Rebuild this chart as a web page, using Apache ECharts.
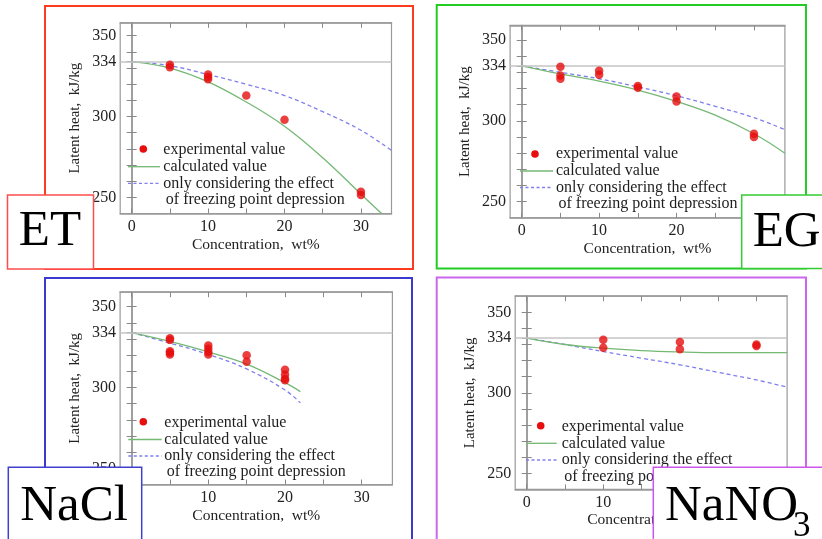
<!DOCTYPE html>
<html><head><meta charset="utf-8">
<script src="https://cdn.jsdelivr.net/npm/echarts@6/dist/echarts.min.js"></script>
<style>html,body{margin:0;padding:0;background:#fff}#c{width:822px;height:539px}</style>
</head><body><div id="c"></div><script>
// ---- tick definitions ----
const yTickLabels = [250, 300, 334, 350];
const yTicks = [250, 260, 270, 280, 290, 300, 310, 320, 330, 334, 340, 350];
const xTickLabels = [0, 10, 20, 30];
const xTicks = [0, 5, 10, 15, 20, 25, 30];
const iceLatentHeat = 334;

// ---- ET ----
const etExpX = [5, 5, 10, 10, 10, 15, 20, 30, 30];
const etExpY = [332, 330.5, 326, 324.5, 323, 313, 298, 253.5, 251.5];
const etCalcX = [0, 5, 10, 15, 20, 25, 30, 32.7];
const etCalcY = [334, 330, 321.5, 309, 294, 274.5, 252, 240];
const etFpdX = [0, 5, 10, 15, 20, 25, 30, 34];
const etFpdY = [334, 331.5, 326, 320, 313, 303, 291.5, 279];

// ---- EG ----
const egExpX = [5, 5, 5, 10, 10, 15, 15, 20, 20, 30, 30];
const egExpY = [333.5, 328, 326, 331, 328.5, 321.5, 320.5, 315, 312, 292, 290];
const egCalcX = [0, 5, 10, 15, 20, 25, 30, 34];
const egCalcY = [334, 329, 324.5, 319, 312, 303.5, 292, 280];
const egFpdX = [0, 5, 10, 15, 20, 25, 30, 34];
const egFpdY = [334, 330, 326, 321, 315.5, 309, 302, 294.5];

// ---- NaCl ----
const naclExpX = [5, 5, 5, 5, 5, 10, 10, 10, 10, 15, 15, 20, 20, 20, 20];
const naclExpY = [330.5, 329.5, 322.5, 321.5, 320.5, 326, 324, 322, 320.5, 320, 316, 311, 308, 305.5, 304.5];
const naclCalcX = [0, 5, 10, 15, 20, 22];
const naclCalcY = [334, 328.5, 322, 314.5, 303, 297.5];
const naclFpdX = [0, 5, 10, 15, 20, 22];
const naclFpdY = [334, 327.5, 320.5, 311.5, 298.5, 290.5];

// ---- NaNO3 ----
const nano3ExpX = [10, 10, 20, 20, 30, 30];
const nano3ExpY = [333, 328, 331.5, 327, 330, 329];
const nano3CalcX = [0, 5, 10, 15, 20, 25, 30, 34];
const nano3CalcY = [334, 330, 327.7, 326.2, 325.4, 325, 325, 325];
const nano3FpdX = [0, 5, 10, 15, 20, 25, 30, 34];
const nano3FpdY = [334, 330, 325.6, 321.5, 317.4, 312.7, 308, 303.5];

const legendTexts = ['experimental value', 'calculated value', 'only considering the effect', 'of freezing point depression'];
const xName = 'Concentration,  wt%';
const yName = 'Latent heat,  kJ/kg';

const zip = (a, b) => a.map((v, i) => [v, b[i]]);
const FONT = '"Liberation Serif","DejaVu Serif",serif';

const panels = [
  { exp: zip(etExpX, etExpY), calc: zip(etCalcX, etCalcY), fpd: zip(etFpdX, etFpdY),
    grid: { left: 120.2, top: 22.8, width: 271.3, height: 190.7 }, ymax: 358,
    frame: { x: 45, y: 6, w: 368, h: 263, c: '#ff3b1f' },
    box: { x: 7.5, y: 195, w: 86, h: 74, c: '#ff4d4d' }, label: 'ET', lx: 50, ly: 232,
    leg: { dx: 143.3, dy: 149, tx: 163.3, ty: [150, 166.7, 183.3, 200], l0: 128, l1: 160 } },
  { exp: zip(egExpX, egExpY), calc: zip(egCalcX, egCalcY), fpd: zip(egFpdX, egFpdY),
    grid: { left: 510.1, top: 25.4, width: 274.8, height: 192.5 }, ymax: 359,
    frame: { x: 436.7, y: 5, w: 369.3, h: 263.5, c: '#22cc22' },
    box: { x: 741.7, y: 195, w: 90, h: 73.5, c: '#33cc33' }, label: 'EG', lx: 786.7, ly: 233,
    leg: { dx: 535, dy: 154, tx: 556, ty: [154, 171, 187.5, 203.5], l0: 520, l1: 553 } },
  { exp: zip(naclExpX, naclExpY), calc: zip(naclCalcX, naclCalcY), fpd: zip(naclFpdX, naclFpdY),
    grid: { left: 120.1, top: 292.2, width: 272.3, height: 192.3 }, ymax: 359,
    frame: { x: 45, y: 278, w: 367, h: 280, c: '#3a3ad0' },
    box: { x: 8.3, y: 467.3, w: 133.4, h: 90, c: '#4040d0' }, label: 'NaCl', lx: 74, ly: 506.7,
    leg: { dx: 143.3, dy: 421.7, tx: 164.3, ty: [423, 439.5, 456, 472], l0: 128.3, l1: 161.7 } },
  { exp: zip(nano3ExpX, nano3ExpY), calc: zip(nano3CalcX, nano3CalcY), fpd: zip(nano3FpdX, nano3FpdY),
    grid: { left: 515.2, top: 296.2, width: 271.9, height: 193.2 }, ymax: 360,
    frame: { x: 436.7, y: 277.5, w: 369.3, h: 280, c: '#cc66ee' },
    box: { x: 653.3, y: 467.3, w: 180, h: 90, c: '#cc55ee' }, label: 'NaNO', lx: 665, ly: 506.7,
    leg: { dx: 540.7, dy: 425.7, tx: 561.7, ty: [426.7, 443.3, 460, 476.7], l0: 526, l1: 556.7 } }
];

const grid = [], xAxis = [], yAxis = [], series = [], graphic = [];
const txt = { color: '#222', fontSize: 16, fontFamily: FONT };

panels.forEach((p, i) => {
  grid.push(Object.assign({ show: true, borderColor: '#999', borderWidth: 1.2, backgroundColor: 'transparent' }, p.grid));
  const axLine = { show: true, lineStyle: { color: '#999', width: 1.5 } };
  const tickX = { show: true, inside: true, length: 5, customValues: xTicks, lineStyle: { color: '#888', width: 1 } };
  const tickY = { show: true, inside: true, length: 5, customValues: yTicks, lineStyle: { color: '#888', width: 1 } };
  xAxis.push({ type: 'value', gridIndex: i, min: -1.5, max: 34, position: 'bottom',
    axisLine: axLine, axisTick: tickX, splitLine: { show: false },
    axisLabel: Object.assign({ customValues: xTickLabels, margin: 5 }, txt),
    name: xName, nameLocation: 'middle', nameGap: 23,
    nameTextStyle: { color: '#222', fontSize: 15.5, fontFamily: FONT } });
  xAxis.push({ type: 'value', gridIndex: i, min: -1.5, max: 34, position: 'top',
    axisLine: axLine, axisTick: tickX, splitLine: { show: false }, axisLabel: { show: false } });
  yAxis.push({ type: 'value', gridIndex: i, min: 240, max: p.ymax, position: 'left',
    axisLine: axLine, axisTick: tickY, splitLine: { show: false },
    axisLabel: Object.assign({ customValues: yTickLabels, margin: 4 }, txt),
    name: yName, nameLocation: 'middle', nameGap: 38,
    nameTextStyle: { color: '#222', fontSize: 15, fontFamily: FONT } });
  yAxis.push({ type: 'value', gridIndex: i, min: 240, max: p.ymax, position: 'right',
    axisLine: axLine, axisTick: tickY, splitLine: { show: false }, axisLabel: { show: false } });

  series.push({ type: 'line', xAxisIndex: 2 * i, yAxisIndex: 2 * i, data: p.fpd, smooth: 0.4,
    showSymbol: false, lineStyle: { color: '#7f7fee', width: 1.3, type: [4, 3] }, z: 3,
    markLine: { silent: true, symbol: 'none', label: { show: false },
      lineStyle: { color: '#c4c4c4', width: 1.6, type: 'solid' }, data: [{ yAxis: iceLatentHeat }] } });
  series.push({ type: 'line', xAxisIndex: 2 * i, yAxisIndex: 2 * i, data: p.calc, smooth: 0.4,
    showSymbol: false, lineStyle: { color: '#74b874', width: 1.3 }, z: 4 });
  series.push({ type: 'scatter', xAxisIndex: 2 * i, yAxisIndex: 2 * i, data: p.exp,
    symbolSize: 8.5, itemStyle: { color: '#e60e0e' }, z: 5 });

  // panel frame
  graphic.push({ type: 'rect', shape: { x: p.frame.x, y: p.frame.y, width: p.frame.w, height: p.frame.h },
    style: { fill: null, stroke: p.frame.c, lineWidth: 2 }, z: 1 });
  // legend
  const L = p.leg;
  graphic.push({ type: 'circle', shape: { cx: L.dx, cy: L.dy, r: 3.8 }, style: { fill: '#e60e0e' }, z: 10 });
  graphic.push({ type: 'line', shape: { x1: L.l0, y1: L.ty[1], x2: L.l1, y2: L.ty[1] }, style: { stroke: '#74b874', lineWidth: 1.3 }, z: 10 });
  graphic.push({ type: 'line', shape: { x1: L.l0, y1: L.ty[2], x2: L.l1, y2: L.ty[2] }, style: { stroke: '#7f7fee', lineWidth: 1.3, lineDash: [3, 2.5] }, z: 10 });
  legendTexts.forEach((t, k) => {
    graphic.push({ type: 'text', z: 10, style: { text: t, x: L.tx + (k === 3 ? 2.5 : 0), y: L.ty[k],
      font: '16px ' + FONT, fill: '#1e1e1e', textAlign: 'left', textVerticalAlign: 'middle', align: 'left', verticalAlign: 'middle' } });
  });
  // label box
  graphic.push({ type: 'rect', shape: { x: p.box.x, y: p.box.y, width: p.box.w, height: p.box.h },
    style: { fill: '#fff', stroke: p.box.c, lineWidth: 1.5 }, z: 100 });
  const isNano = p.label === 'NaNO';
  graphic.push({ type: 'text', z: 101, style: { text: p.label, x: p.lx, y: p.ly, font: '51px ' + FONT, fill: '#000',
    textAlign: isNano ? 'left' : 'center', align: isNano ? 'left' : 'center', textVerticalAlign: 'middle', verticalAlign: 'middle' } });
  if (isNano) {
    graphic.push({ type: 'text', z: 101, style: { text: '3', x: 793, y: 527, font: '35px ' + FONT, fill: '#000',
      textAlign: 'left', align: 'left', textVerticalAlign: 'middle', verticalAlign: 'middle' } });
  }
});

const chart = echarts.init(document.getElementById('c'), null, { renderer: 'canvas' });
chart.setOption({ animation: false, backgroundColor: '#fff', grid, xAxis, yAxis, series, graphic });
</script></body></html>
